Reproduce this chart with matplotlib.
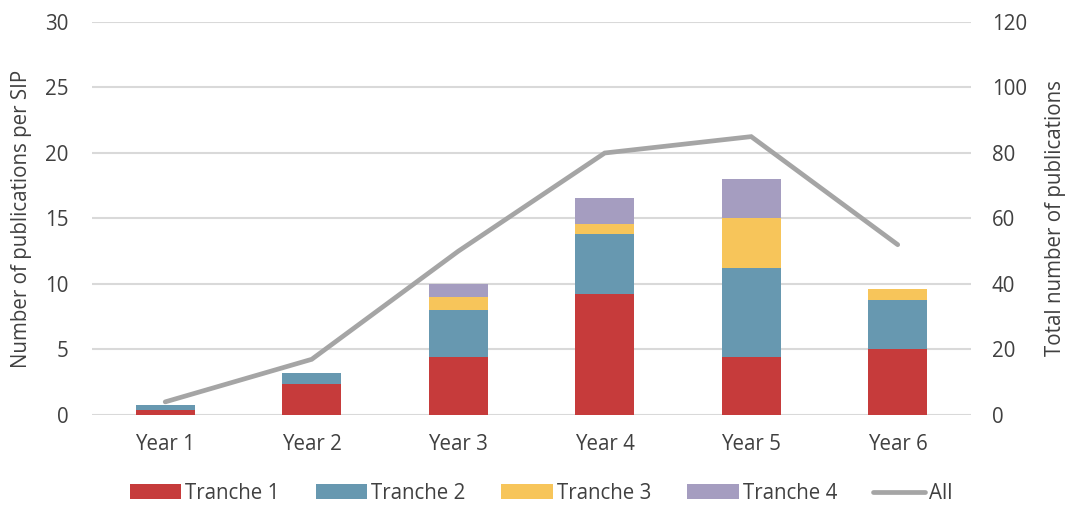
import matplotlib
matplotlib.use("Agg")
import matplotlib.pyplot as plt
import numpy as np
from matplotlib.patches import Patch
from matplotlib.lines import Line2D

plt.rcParams['font.family'] = ['Open Sans', 'DejaVu Sans']

years = ["Year 1", "Year 2", "Year 3", "Year 4", "Year 5", "Year 6"]
tranche1 = [0.4, 2.4, 4.4, 9.2, 4.4, 5.0]
tranche2 = [0.35, 0.8, 3.6, 4.6, 6.85, 3.8]
tranche3 = [0.0, 0.0, 1.0, 0.8, 3.75, 0.8]
tranche4 = [0.0, 0.0, 1.0, 2.0, 3.0, 0.0]
total_all = [4, 17, 50, 80, 85, 52]

series = [("Tranche 1", tranche1, "#c63b3b"),
          ("Tranche 2", tranche2, "#6798b0"),
          ("Tranche 3", tranche3, "#f7c55a"),
          ("Tranche 4", tranche4, "#a59dc0")]
line_color = "#a5a5a5"
text_color = "#404040"
fs = 14.8

fig = plt.figure(figsize=(10.67, 5.07), dpi=100)
ax = fig.add_axes([0.0862, 0.1815, 0.8238, 0.7751])
ax2 = ax.twinx()

x = np.arange(len(years))
bottom = np.zeros(len(years))
for name, vals, color in series:
    vals = np.array(vals)
    ax.bar(x, vals, width=0.4, bottom=bottom, color=color, zorder=2)
    bottom += vals

ax2.plot(x, total_all, color=line_color, lw=3.4, solid_capstyle="round",
         solid_joinstyle="miter", zorder=3)

ax.set_xlim(-0.5, len(years) - 0.5)
ax.set_ylim(0, 30)
ax.set_yticks(range(0, 31, 5))
ax2.set_ylim(0, 120)
ax2.set_yticks(range(0, 121, 20))

ax.yaxis.grid(True, color="#d9d9d9", lw=1.5, zorder=0)
ax.set_axisbelow(True)
ax.set_xticks(x)
ax.set_xticklabels(years)

for a in (ax, ax2):
    for s in a.spines.values():
        s.set_visible(False)
    a.tick_params(length=0, labelsize=fs, colors=text_color)
ax.tick_params(axis="y", pad=17)
ax.tick_params(axis="x", pad=14)
ax2.tick_params(axis="y", pad=15)

ax.set_ylabel("Number of publications per SIP", fontsize=fs, color=text_color, labelpad=9)
ax2.set_ylabel("Total number of publications", fontsize=fs, color=text_color, labelpad=13)

handles = [Patch(facecolor=c, label=n) for n, _, c in series]
handles.append(Line2D([0], [0], color=line_color, lw=3.4, solid_capstyle="round", label="All"))
fig.legend(handles=handles, loc="center", bbox_to_anchor=(0.507, 0.027), ncol=5,
           frameon=False, fontsize=fs, handlelength=2.5, handletextpad=0.2,
           columnspacing=1.75, labelcolor=text_color)

fig.savefig("out.png", dpi=100)
